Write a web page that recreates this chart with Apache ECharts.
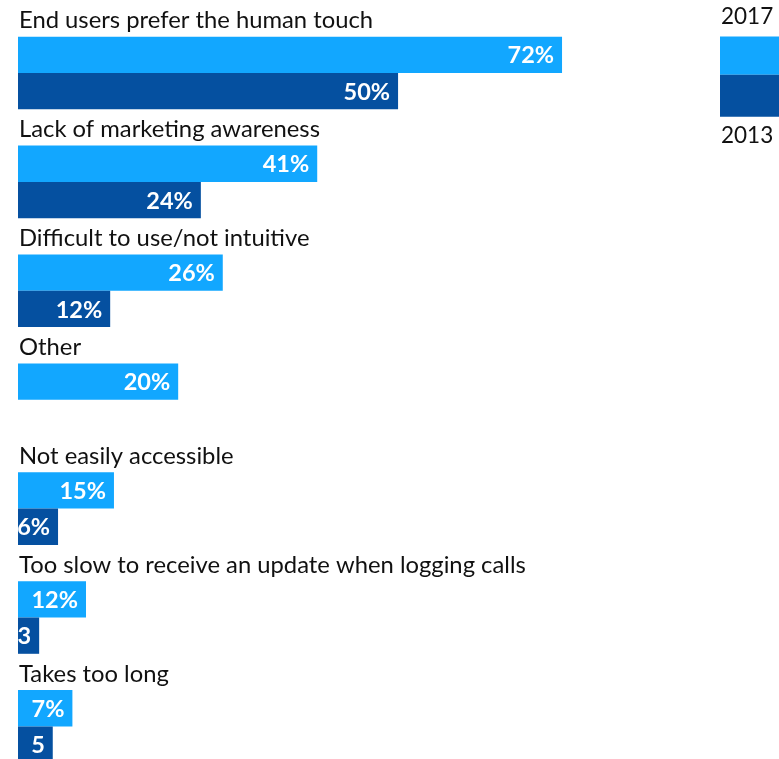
<!DOCTYPE html>
<html>
<head>
<meta charset="utf-8">
<script src="https://cdn.jsdelivr.net/npm/echarts@6/dist/echarts.min.js"></script>
<style>
html,body{margin:0;padding:0;background:#fff;overflow:hidden;}
#chart{width:779px;height:766px;}
</style>
</head>
<body>
<div id="chart"></div>
<script>
const categories = [
  'End users prefer the human touch',
  'Lack of marketing awareness',
  'Difficult to use/not intuitive',
  'Other',
  'Not easily accessible',
  'Too slow to receive an update when logging calls',
  'Takes too long'
];
const seriesNames = ['2017', '2013'];
// bar lengths as drawn in the picture
const values2017 = [72, 39.6, 27.1, 21.2, 12.7, 9.0, 7.2];
const values2013 = [50.3, 24.2, 12.2, null, 5.3, 2.8, 4.6];
// label texts as printed on the bars
const labels2017 = ['72%', '41%', '26%', '20%', '15%', '12%', '7%'];
const labels2013 = ['50%', '24%', '12%', '', '6%', '3', '5'];
const axisMax = 100;

const colors = ['#12a7ff', '#0550a0'];
const FONT = 'Lato';

const chart = echarts.init(document.getElementById('chart'), null, {renderer: 'canvas'});

function valueLabel(labels) {
  return {
    show: true,
    position: 'insideRight',
    distance: 8,
    offset: [0, 1],
    color: '#fff',
    fontFamily: FONT,
    fontWeight: 'bold',
    fontSize: 23.5,
    formatter: p => labels[p.dataIndex]
  };
}

const option = {
  animation: false,
  grid: {left: 18, top: 0.4, width: 755.6, height: 762.3, containLabel: false},
  xAxis: {type: 'value', min: 0, max: axisMax, show: false},
  yAxis: {type: 'category', data: categories, inverse: true, show: false},
  series: [
    {
      type: 'bar',
      name: 'category',
      silent: true,
      data: categories.map(() => axisMax),
      itemStyle: {color: 'rgba(0,0,0,0)'},
      label: {
        show: true,
        position: 'insideLeft',
        distance: 1,
        offset: [0, 2],
        color: '#111',
        fontFamily: FONT,
        fontSize: 23.8,
        formatter: p => categories[p.dataIndex]
      },
      barGap: '0%',
      barCategoryGap: '0%'
    },
    {
      type: 'bar',
      name: seriesNames[0],
      data: values2017,
      itemStyle: {color: colors[0]},
      label: valueLabel(labels2017),
      barGap: '0%',
      barCategoryGap: '0%'
    },
    {
      type: 'bar',
      name: seriesNames[1],
      data: values2013,
      itemStyle: {color: colors[1]},
      label: valueLabel(labels2013),
      barGap: '0%',
      barCategoryGap: '0%'
    }
  ],
  graphic: [
    {type: 'text', left: 721, top: 5, style: {text: seriesNames[0], fontFamily: FONT, fontSize: 22.5, fill: '#111'}},
    {type: 'rect', left: 720, top: 36.5, shape: {width: 60, height: 38.2}, style: {fill: colors[0]}},
    {type: 'rect', left: 720, top: 74.7, shape: {width: 60, height: 42}, style: {fill: colors[1]}},
    {type: 'text', left: 721, top: 124, style: {text: seriesNames[1], fontFamily: FONT, fontSize: 22.5, fill: '#111'}}
  ]
};
chart.setOption(option);
</script>
</body>
</html>
